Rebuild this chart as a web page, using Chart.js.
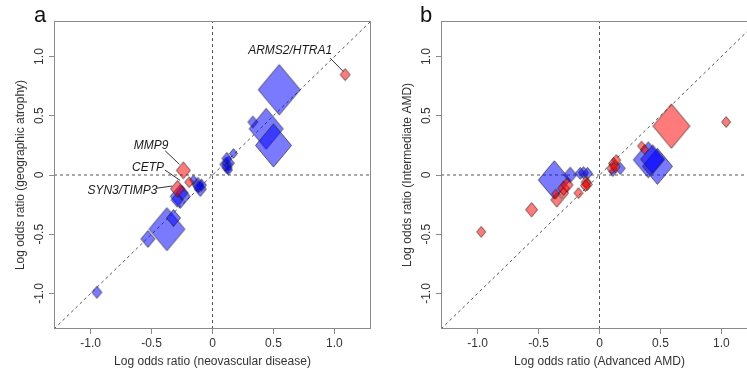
<!DOCTYPE html>
<html><head><meta charset="utf-8">
<script src="https://cdn.jsdelivr.net/npm/chart.js@4/dist/chart.umd.min.js"></script>
<style>
html,body{margin:0;padding:0;background:#fff;overflow:hidden;width:747px;height:375px;position:relative}
canvas{position:absolute;top:0}
#ca{left:0}
#cb{left:387px}
.pl{position:absolute;font:22px "Liberation Sans",Arial,sans-serif;line-height:22px;color:#111}
</style></head><body>
<canvas id="ca" width="380" height="375"></canvas>
<canvas id="cb" width="380" height="375"></canvas>
<div class="pl" style="left:34px;top:4px">a</div>
<div class="pl" style="left:420px;top:4px">b</div>
<script>
// ---------- data ----------
const axisMin = -1.3, axisMax = 1.3;
const xTicks = [-1, -0.5, 0, 0.5, 1];
const yTicks = [-1, -0.5, 0, 0.5, 1];

// Panel a: neovascular disease (x) vs geographic atrophy (y)
const aBlueX = [-0.948, -0.53, -0.374, -0.32, -0.265, -0.29, -0.25, -0.156, -0.12, -0.10, -0.115, -0.09, 0.11, 0.13, 0.118, 0.12, 0.172, 0.131, 0.331, 0.44, 0.50, 0.547];
const aBlueY = [-0.99, -0.54, -0.457, -0.363, -0.18, -0.21, -0.15, -0.042, -0.08, -0.12, -0.10, -0.085, 0.09, 0.10, 0.14, 0.06, 0.182, 0.042, 0.447, 0.39, 0.25, 0.72];
const aBlueW = [5, 7, 18, 7, 10, 6, 6, 4, 6, 6, 5, 5, 6, 6, 5, 5, 4, 4, 5, 17, 18, 21];
const aRedX = [-0.287, -0.191, -0.239, 1.088];
const aRedY = [-0.117, -0.061, 0.039, 0.847];
const aRedW = [7, 4.5, 7, 5];

// Panel b: advanced AMD (x) vs intermediate AMD (y)
const bBlueX = [-0.371, -0.24, -0.158, -0.131, -0.098, 0.17, 0.11, 0.40, 0.475, 0.436];
const bBlueY = [-0.042, 0.0, 0.014, 0.019, 0.014, 0.056, 0.028, 0.128, 0.073, 0.132];
const bBlueW = [16, 6.5, 5, 5, 5, 5, 4, 15, 15, 12];
const bRedX = [-0.97, -0.557, -0.35, -0.36, -0.295, -0.295, -0.267, -0.172, -0.11, -0.10, -0.115, 0.115, 0.10, 0.129, 0.137, 0.345, 0.37, 0.59, 1.039];
const bRedY = [-0.48, -0.293, -0.21, -0.16, -0.153, -0.112, -0.084, -0.153, -0.06, -0.08, -0.09, 0.098, 0.056, 0.07, 0.126, 0.245, 0.215, 0.413, 0.447];
const bRedW = [4.5, 6, 6, 4, 5, 6, 6, 4.5, 5, 5, 5, 5, 5, 5, 4.5, 4, 4, 18.5, 4.5];

// gene annotations (panel a)
const geneLabels = ['ARMS2/HTRA1', 'MMP9', 'CETP', 'SYN3/TIMP3'];
const geneTextX = [0.637, -0.504, -0.529, -0.739];
const geneTextY = [1.048, 0.246, 0.061, -0.134];
const geneLineFrom = [[0.965, 0.987], [-0.388, 0.204], [-0.39, 0.042], [-0.456, -0.111]];
const geneLineTo = [[1.074, 0.872], [-0.271, 0.09], [-0.265, -0.046], [-0.33, -0.093]];

// ---------- drawing ----------
const FONT = '"Liberation Sans", Arial, Helvetica, sans-serif';
const BLUE = 'rgba(0,0,255,0.52)';
const RED = 'rgba(255,0,0,0.52)';

function diamond(hw, fill) {
  const hh = hw * 1.2;
  const c = document.createElement('canvas');
  const W = Math.ceil(2 * hw + 3), H = Math.ceil(2 * hh + 3);
  c.width = W; c.height = H;
  const g = c.getContext('2d');
  const cx = W / 2, cy = H / 2;
  g.beginPath();
  g.moveTo(cx - hw, cy); g.lineTo(cx, cy - hh); g.lineTo(cx + hw, cy); g.lineTo(cx, cy + hh); g.closePath();
  g.fillStyle = fill; g.fill();
  g.lineWidth = 0.8; g.strokeStyle = 'rgba(30,30,30,0.85)'; g.stroke();
  return c;
}

function pointSet(xs, ys, ws, fill) {
  const imgs = ws.map(w => diamond(w, fill));
  return {
    data: xs.map((x, i) => ({x: x, y: ys[i]})),
    pointStyle: ctx => imgs[ctx.dataIndex],
    pointRadius: 3,
    showLine: false,
    order: 0
  };
}

function refLine(p0, p1, dash) {
  return {
    data: [{x: p0[0], y: p0[1]}, {x: p1[0], y: p1[1]}],
    showLine: true, pointRadius: 0, borderColor: dash ? '#555' : '#333',
    borderWidth: 1, borderDash: dash ? [3, 3] : [], order: 2, fill: false
  };
}

const boxPlugin = {
  id: 'box',
  afterDatasetsDraw(chart) {
    const a = chart.chartArea, c = chart.ctx;
    c.save(); c.strokeStyle = '#8a8a8a'; c.lineWidth = 1;
    c.strokeRect(Math.round(a.left) + 0.5, Math.round(a.top) + 0.5, Math.round(a.right - a.left) - 1, Math.round(a.bottom - a.top) - 1);
    c.restore();
  }
};

const geneTextPlugin = {
  id: 'geneText',
  afterDatasetsDraw(chart, args, opts) {
    if (!opts.show) return;
    const c = chart.ctx, xs = chart.scales.x, ys = chart.scales.y;
    c.save();
    c.font = 'italic 12px ' + FONT; c.fillStyle = '#1a1a1a';
    c.textAlign = 'center'; c.textBaseline = 'middle';
    geneLabels.forEach((t, i) => c.fillText(t, xs.getPixelForValue(geneTextX[i]), ys.getPixelForValue(geneTextY[i])));
    c.restore();
  }
};

function fmt(v) { return v === 0 ? '0' : v.toFixed(1); }

function makeChart(id, datasets, xTitle, yTitle, showGenes) {
  return new Chart(document.getElementById(id), {
    type: 'scatter',
    data: {datasets: datasets},
    plugins: [boxPlugin, geneTextPlugin],
    options: {
      responsive: false, animation: false, events: [],
      layout: {padding: {left: 0, right: 9, top: 21, bottom: 0}},
      plugins: {legend: {display: false}, tooltip: {enabled: false}, geneText: {show: showGenes}},
      scales: {
        x: {
          type: 'linear', min: axisMin, max: axisMax,
          afterBuildTicks: s => { s.ticks = xTicks.map(v => ({value: v})); },
          afterFit: s => { s.height = 46; },
          ticks: {callback: v => fmt(v), color: '#333', font: {family: FONT, size: 12}, padding: 2, maxRotation: 0, autoSkip: false},
          grid: {drawOnChartArea: false, drawTicks: true, tickLength: 5, tickColor: '#8a8a8a', color: '#8a8a8a'},
          border: {display: false},
          title: {display: true, text: xTitle, color: '#333', font: {family: FONT, size: 12}, padding: {top: 0, bottom: 6}}
        },
        y: {
          type: 'linear', min: axisMin, max: axisMax,
          afterBuildTicks: s => { s.ticks = yTicks.map(v => ({value: v})); },
          afterFit: s => { s.width = 54; },
          ticks: {callback: v => fmt(v), color: '#333', font: {family: FONT, size: 12}, padding: -1, minRotation: 90, maxRotation: 90, crossAlign: 'center', autoSkip: false},
          grid: {drawOnChartArea: false, drawTicks: true, tickLength: 5, tickColor: '#8a8a8a', color: '#8a8a8a'},
          border: {display: false},
          title: {display: true, text: yTitle, color: '#333', font: {family: FONT, size: 12}, padding: {top: 13, bottom: 0}}
        }
      }
    }
  });
}

function refLines() {
  return [
    refLine([0, axisMin], [0, axisMax], true),
    refLine([axisMin, 0], [axisMax, 0], true),
    refLine([axisMin, axisMin], [axisMax, axisMax], true)
  ];
}

const dsA = refLines()
  .concat(geneLineFrom.map((p, i) => refLine(p, geneLineTo[i], false)))
  .concat([pointSet(aBlueX, aBlueY, aBlueW, BLUE), pointSet(aRedX, aRedY, aRedW, RED)]);
dsA[dsA.length - 1].order = -1;

const dsB = refLines()
  .concat([pointSet(bBlueX, bBlueY, bBlueW, BLUE), pointSet(bRedX, bRedY, bRedW, RED)]);
dsB[dsB.length - 1].order = -1;

makeChart('ca', dsA, 'Log odds ratio (neovascular disease)', 'Log odds ratio (geographic atrophy)', true);
makeChart('cb', dsB, 'Log odds ratio (Advanced AMD)', 'Log odds ratio (Intermediate AMD)', false);
</script>
</body></html>
